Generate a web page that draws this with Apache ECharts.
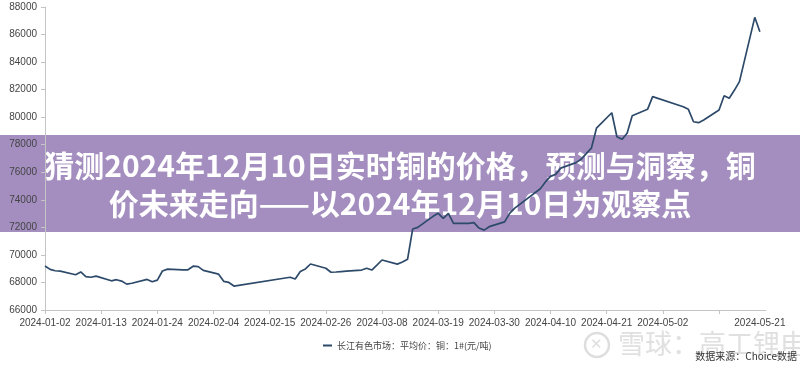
<!DOCTYPE html>
<html>
<head>
<meta charset="utf-8">
<script src="https://cdn.jsdelivr.net/npm/echarts@6/dist/echarts.min.js"></script>
<style>
html,body{margin:0;padding:0;background:#fff;}
#chart{width:800px;height:369px;}
</style>
</head>
<body>
<div id="chart"></div>
<script>
// ---- data ----
const dates = [
 '2024-01-02','2024-01-03','2024-01-04','2024-01-05','2024-01-08','2024-01-09','2024-01-10','2024-01-11','2024-01-12',
 '2024-01-15','2024-01-16','2024-01-17','2024-01-18','2024-01-19','2024-01-22','2024-01-23','2024-01-24','2024-01-25','2024-01-26',
 '2024-01-29','2024-01-30','2024-01-31','2024-02-01','2024-02-02','2024-02-05','2024-02-06','2024-02-07','2024-02-08',
 '2024-02-19','2024-02-20','2024-02-21','2024-02-22','2024-02-23','2024-02-26','2024-02-27','2024-02-28','2024-02-29','2024-03-01',
 '2024-03-04','2024-03-05','2024-03-06','2024-03-07','2024-03-08','2024-03-11','2024-03-12','2024-03-13','2024-03-14','2024-03-15',
 '2024-03-18','2024-03-19','2024-03-20','2024-03-21','2024-03-22','2024-03-25','2024-03-26','2024-03-27','2024-03-28','2024-03-29',
 '2024-04-01','2024-04-02','2024-04-03','2024-04-08','2024-04-09','2024-04-10','2024-04-11','2024-04-12',
 '2024-04-15','2024-04-16','2024-04-17','2024-04-18','2024-04-19','2024-04-22','2024-04-23','2024-04-24','2024-04-25','2024-04-26',
 '2024-04-29','2024-04-30','2024-05-06','2024-05-07','2024-05-08','2024-05-09','2024-05-10',
 '2024-05-13','2024-05-14','2024-05-15','2024-05-16','2024-05-17','2024-05-20','2024-05-21'
];
const prices = [
 69200,68950,68850,68820,68560,68760,68420,68380,68460,
 68120,68200,68100,67880,67940,68220,68050,68170,68830,68970,
 68920,68920,69180,69150,68880,68600,68080,68000,67740,
 68380,68250,68800,68980,69340,69030,68740,68760,68790,68820,
 68900,69030,68900,69260,69630,69330,69480,69680,71880,72000,
 72800,73020,72660,73020,72290,72290,72340,71950,71800,72050,
 72400,73020,73400,74800,75300,75700,75850,76300,
 76700,76950,77350,77750,79200,80320,78580,78390,78830,80110,
 80570,81490,80760,80570,79670,79600,79800,
 80520,81560,81370,81950,82580,87250,86200
];
const tickDates = ['2024-01-02','2024-01-13','2024-01-24','2024-02-04','2024-02-15','2024-02-26','2024-03-08',
 '2024-03-19','2024-03-30','2024-04-10','2024-04-21','2024-05-02','2024-05-13'];
const labelDates = ['2024-01-02','2024-01-13','2024-01-24','2024-02-04','2024-02-15','2024-02-26','2024-03-08',
 '2024-03-19','2024-03-30','2024-04-10','2024-04-21','2024-05-02','2024-05-21'];
const seriesName = '长江有色市场：平均价：铜：1#(元/吨)';
const titleLines = ['猜测2024年12月10日实时铜的价格，预测与洞察，铜', '价未来走向——以2024年12月10日为观察点'];
const sourceText = '数据来源：Choice数据';
const watermarkText = '雪球：高工锂电';

// ---- helpers ----
const t0 = Date.UTC(2024, 0, 2);
const DAY = 86400000;
const dayOf = s => Math.round((Date.parse(s + 'T00:00:00Z') - t0) / DAY);
const dateOf = v => new Date(t0 + Math.round(v) * DAY).toISOString().slice(0, 10);

const chart = echarts.init(document.getElementById('chart'), null, {renderer: 'canvas'});
const axisColor = '#c4c4c4';
const labelStyle = {color: '#444', fontSize: 10, fontFamily: 'Liberation Sans, Arial, sans-serif'};

chart.setOption({
  animation: false,
  backgroundColor: '#fff',
  grid: {left: 45, right: 34, top: 7, bottom: 59, containLabel: false},
  xAxis: {
    type: 'value', min: 0, max: 141.2,
    axisLine: {show: true, lineStyle: {color: axisColor}},
    axisTick: {show: true, length: 4, lineStyle: {color: axisColor}, customValues: tickDates.map(dayOf)},
    axisLabel: Object.assign({margin: 8, customValues: labelDates.map(dayOf), formatter: v => dateOf(v)}, labelStyle),
    splitLine: {show: false}
  },
  yAxis: {
    type: 'value', min: 66000, max: 88000, interval: 2000,
    axisLine: {show: true, lineStyle: {color: axisColor}},
    axisTick: {show: true, length: 4, lineStyle: {color: axisColor}},
    axisLabel: Object.assign({margin: 8, formatter: v => String(v)}, labelStyle),
    splitLine: {show: false}
  },
  legend: {
    left: 318, top: 336,
    icon: 'rect', itemWidth: 9, itemHeight: 2, itemGap: 10,
    textStyle: {color: '#444', fontSize: 9, fontFamily: 'Noto Sans CJK SC, sans-serif'},
    data: [seriesName]
  },
  series: [{
    name: seriesName,
    type: 'line',
    showSymbol: false,
    smooth: false,
    lineStyle: {color: '#2d4a6a', width: 1.7},
    itemStyle: {color: '#2d4a6a'},
    data: dates.map((d, i) => [dayOf(d), prices[i]])
  }],
  graphic: [
    {
      type: 'group', z: 100, silent: true,
      children: [
        {type: 'circle', shape: {cx: 597, cy: 345, r: 12}, style: {fill: 'none', stroke: '#dedede', lineWidth: 2.5}},
        {type: 'text', x: 590, y: 337, style: {text: '✕', fill: '#dedede', fontSize: 15}},
        {type: 'text', x: 618, y: 330, style: {text: watermarkText, fill: '#e0e0e0', fontSize: 27, fontFamily: 'Noto Sans CJK SC, sans-serif'}},
        {type: 'text', x: 797, y: 356, style: {text: sourceText, fill: '#333', fontSize: 10, align: 'right', verticalAlign: 'middle', fontFamily: 'Noto Sans CJK SC, sans-serif'}},
        {type: 'rect', shape: {x: 0, y: 135, width: 800, height: 97}, style: {fill: 'rgba(148,124,180,0.86)'}},
        {type: 'text', x: 400, y: 166, style: {text: titleLines[0], fill: '#fff', fontSize: 30, fontWeight: 'bold', align: 'center', verticalAlign: 'middle', fontFamily: 'Noto Sans CJK SC, sans-serif'}},
        {type: 'text', x: 400, y: 204, style: {text: titleLines[1], fill: '#fff', fontSize: 30, fontWeight: 'bold', align: 'center', verticalAlign: 'middle', fontFamily: 'Noto Sans CJK SC, sans-serif'}}
      ]
    }
  ]
});
</script>
</body>
</html>
